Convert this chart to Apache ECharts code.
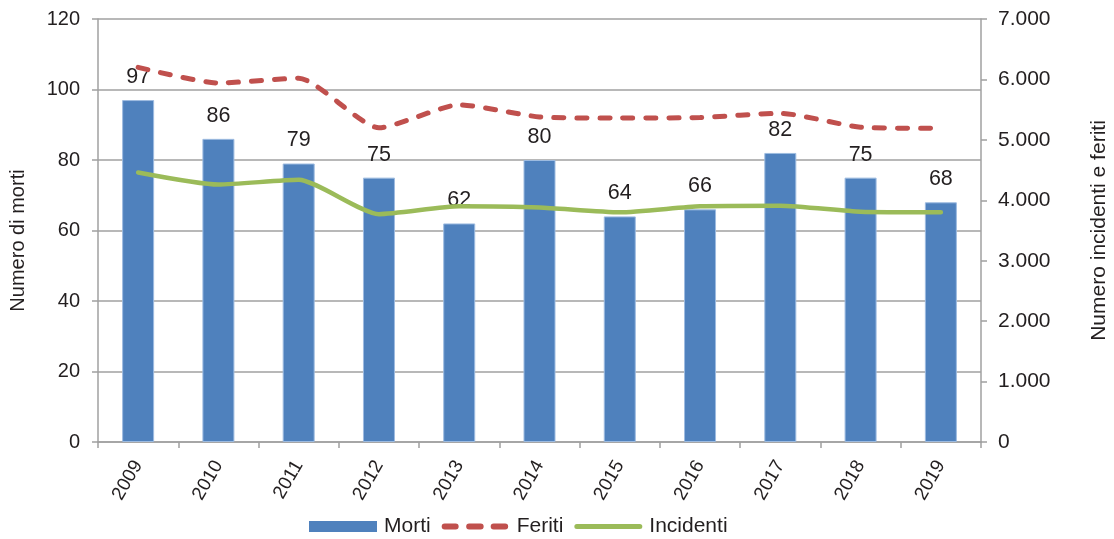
<!DOCTYPE html>
<html>
<head>
<meta charset="utf-8">
<script src="https://cdn.jsdelivr.net/npm/echarts@6/dist/echarts.min.js"></script>
<style>
  html, body { margin: 0; padding: 0; background: #ffffff; }
  #chart { width: 1114px; height: 539px; }
</style>
</head>
<body>
<div id="chart"></div>
<script>
// Road accident figures by year
const years = ['2009', '2010', '2011', '2012', '2013', '2014', '2015', '2016', '2017', '2018', '2019'];
const morti = [97, 86, 79, 75, 62, 80, 64, 66, 82, 75, 68];
const feriti = [6200, 5940, 6020, 5200, 5580, 5380, 5360, 5370, 5440, 5210, 5190];
const incidenti = [4460, 4260, 4340, 3770, 3900, 3880, 3800, 3900, 3910, 3810, 3800];

const leftTicks = { min: 0, max: 120, interval: 20 };
const rightTicks = { min: 0, max: 7000, interval: 1000 };

const FONT = '"Liberation Sans", Arial, sans-serif';
const TEXT = '#231f20';
const AXIS = '#a0a0a0';
const RED = '#c0504d';
const GREEN = '#9bbb59';
const BLUE = '#4f81bd';

function thousands(v) {
  return String(v).replace(/\B(?=(\d{3})+(?!\d))/g, '.');
}

// Legend glyphs: a 68x11 box; corner moves fix the bounding box so the
// shapes keep their place inside it.
function dash(a, b, y0, y1) {
  const r = (y1 - y0) / 2;
  return 'M' + (a + r) + ' ' + y0 + ' L' + (b - r) + ' ' + y0 +
    ' A' + r + ' ' + r + ' 0 0 1 ' + (b - r) + ' ' + y1 +
    ' L' + (a + r) + ' ' + y1 +
    ' A' + r + ' ' + r + ' 0 0 1 ' + (a + r) + ' ' + y0 + ' Z';
}
const BOX = 'M0 0 L0.01 0 L0 0.01 Z M68 11 L67.99 11 L68 10.99 Z ';
const dashedIcon = 'path://' + BOX + dash(0, 17, 2.5, 8.5) + ' ' + dash(24.5, 42, 2.5, 8.5) + ' ' + dash(49, 66.5, 2.5, 8.5);
const solidIcon = 'path://' + BOX + dash(0, 68, 3, 8);

const chart = echarts.init(document.getElementById('chart'), null, { renderer: 'canvas' });

chart.setOption({
  animation: false,
  backgroundColor: '#ffffff',
  textStyle: { fontFamily: FONT, color: TEXT },
  grid: { left: 98, right: 133, top: 19, bottom: 97, containLabel: false, outerBoundsMode: 'none' },
  legend: {
    left: 309,
    top: 516,
    padding: 0,
    itemWidth: 68,
    itemHeight: 11,
    itemGap: 11,
    symbolKeepAspect: false,
    itemStyle: { borderWidth: 0 },
    textStyle: { fontFamily: FONT, fontSize: 21, color: TEXT, padding: [0, 0, 0, 2] },
    data: [
      { name: 'Morti', icon: 'rect' },
      { name: 'Feriti', icon: dashedIcon },
      { name: 'Incidenti', icon: solidIcon }
    ]
  },
  xAxis: {
    type: 'category',
    data: years,
    boundaryGap: true,
    axisLine: { show: true, lineStyle: { color: AXIS, width: 1.5 } },
    axisTick: { show: true, length: 6, lineStyle: { color: AXIS, width: 1.5 } },
    axisLabel: { rotate: 60, margin: 20, fontSize: 19, color: TEXT, fontFamily: FONT }
  },
  yAxis: [
    {
      type: 'value',
      min: leftTicks.min, max: leftTicks.max, interval: leftTicks.interval,
      name: 'Numero di morti',
      nameLocation: 'middle',
      nameGap: 70,
      nameRotate: 90,
      nameTextStyle: { fontSize: 20, color: TEXT, fontFamily: FONT, padding: [0, 20, 0, 0] },
      axisLine: { show: true, lineStyle: { color: AXIS, width: 1.5 } },
      axisTick: { show: true, length: 6, lineStyle: { color: AXIS, width: 1.5 } },
      axisLabel: { fontSize: 20, color: TEXT, margin: 18, fontFamily: FONT },
      splitLine: { show: true, lineStyle: { color: AXIS, width: 1.5 } }
    },
    {
      type: 'value',
      position: 'right',
      min: rightTicks.min, max: rightTicks.max, interval: rightTicks.interval,
      name: 'Numero incidenti e feriti',
      nameLocation: 'middle',
      nameGap: 108,
      nameRotate: 90,
      nameTextStyle: { fontSize: 21, color: TEXT, fontFamily: FONT },
      axisLine: { show: true, lineStyle: { color: AXIS, width: 1.5 } },
      axisTick: { show: true, length: 6, lineStyle: { color: AXIS, width: 1.5 } },
      axisLabel: { fontSize: 21, color: TEXT, margin: 17, fontFamily: FONT, formatter: thousands },
      splitLine: { show: false }
    }
  ],
  series: [
    {
      name: 'Morti',
      type: 'bar',
      yAxisIndex: 0,
      data: morti,
      barWidth: 32,
      itemStyle: { color: BLUE, borderColor: '#9dbbe0', borderWidth: 1 },
      label: {
        show: true,
        position: 'top',
        distance: 12,
        fontSize: 21.5,
        color: TEXT,
        fontFamily: FONT
      },
      z: 2
    },
    {
      name: 'Feriti',
      type: 'line',
      yAxisIndex: 1,
      data: feriti,
      smooth: 0.2,
      symbol: 'none',
      lineStyle: { color: RED, width: 5, type: [10, 13], cap: 'round' },
      itemStyle: { color: RED },
      z: 3
    },
    {
      name: 'Incidenti',
      type: 'line',
      yAxisIndex: 1,
      data: incidenti,
      smooth: 0.2,
      symbol: 'none',
      lineStyle: { color: GREEN, width: 4.5, cap: 'round' },
      itemStyle: { color: GREEN },
      z: 3
    }
  ]
});
</script>
</body>
</html>
